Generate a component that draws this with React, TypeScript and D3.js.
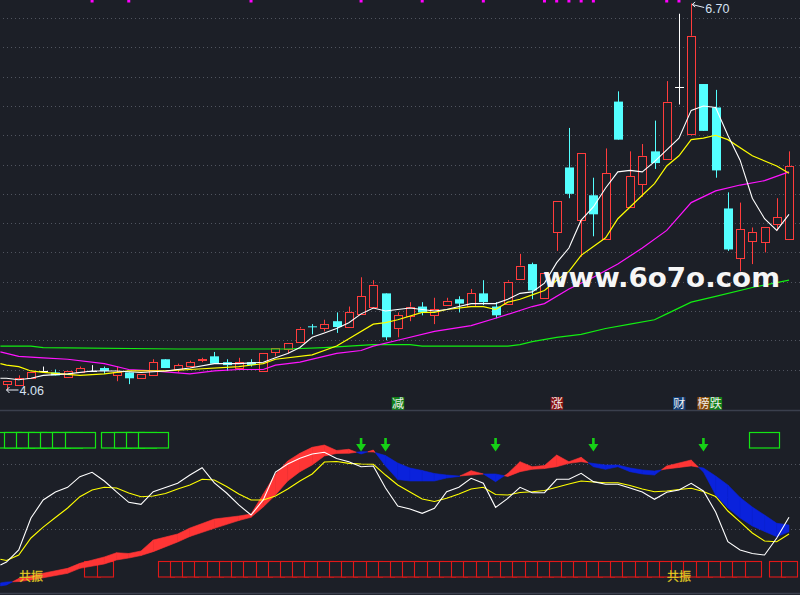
import React from "react";
import * as d3 from "d3";

// ---------- main panel data (price) ----------
const openP = [4.10,4.09,4.14,4.19,4.18,4.15,4.18,4.19,4.21,4.16, 4.18,4.14,4.16,4.27,4.20,4.22,4.26,4.29,4.25,4.21, 4.25,4.19,4.32,4.34,4.39,4.495,4.48,4.53,4.49,4.58, 4.63,4.72,4.48,4.57,4.63,4.57,4.64,4.68,4.63,4.72, 4.63,4.65,4.82,4.92,4.69,5.14,5.58,5.22,5.39,5.09, 6.03,5.31,5.47,5.69,5.64,6.13,5.81,6.15,5.99,5.30, 4.96,5.08,5.07,5.19,5.09];
const highP = [4.12,4.16,4.18,4.22,4.20,4.19,4.22,4.23,4.22,4.22, 4.18,4.17,4.27,4.27,4.24,4.26,4.28,4.32,4.27,4.28, 4.27,4.31,4.35,4.38,4.49,4.51,4.54,4.59,4.63,4.83, 4.81,4.72,4.59,4.66,4.66,4.69,4.69,4.70,4.75,4.81, 4.66,4.81,4.99,4.93,4.86,5.35,5.85,5.68,5.51,5.71, 6.10,5.69,5.74,5.90,6.17,6.63,6.70,6.15,6.11,5.41, 5.34,5.17,5.17,5.37,5.69];
const lowP = [4.06,4.09,4.14,4.19,4.16,4.15,4.18,4.19,4.17,4.12, 4.10,4.14,4.16,4.21,4.18,4.22,4.25,4.24,4.19,4.21, 4.22,4.19,4.29,4.31,4.38,4.44,4.46,4.45,4.49,4.58, 4.63,4.40,4.42,4.53,4.57,4.51,4.64,4.59,4.63,4.64, 4.55,4.65,4.82,4.68,4.69,5.01,5.37,4.97,5.11,5.09, 5.77,5.31,5.38,5.57,5.64,6.01,5.80,5.83,5.51,5.01, 4.87,4.92,5.00,5.15,5.09];
const closeP = [4.12,4.14,4.18,4.19,4.16,4.19,4.21,4.19,4.19,4.18, 4.14,4.17,4.25,4.21,4.23,4.25,4.27,4.24,4.23,4.25, 4.23,4.31,4.35,4.38,4.48,4.49,4.51,4.49,4.59,4.70, 4.78,4.42,4.57,4.63,4.59,4.61,4.67,4.65,4.72,4.66, 4.57,4.80,4.91,4.74,4.86,5.35,5.40,5.68,5.26,5.54, 5.77,5.52,5.66,5.61,6.03,6.13,6.48,5.83,5.56,5.02, 5.16,5.14,5.17,5.24,5.59];

const maWhite = [[-0.5,4.14],[0,4.14],[1,4.13],[2,4.14],[3,4.16],[5,4.17],[7,4.19],[9,4.19],[11,4.18],[13,4.19],[15,4.21],[17,4.24],[19,4.24],[21,4.25],[22,4.28],[23,4.31],[24,4.35],[25,4.42],[26,4.45],[27,4.48],[28,4.52],[29,4.58],[30,4.62],[31,4.60],[32,4.61],[33,4.62],[34,4.61],[35,4.60],[36,4.61],[37,4.63],[38,4.65],[39,4.65],[40,4.65],[41,4.68],[42,4.72],[43,4.73],[44,4.79],[45,4.93],[46,5.03],[47,5.22],[48,5.31],[49,5.44],[50,5.55],[51,5.56],[52,5.55],[53,5.62],[54,5.70],[55,5.78],[56,5.97],[57,6.00],[58,5.99],[59,5.80],[60,5.63],[61,5.37],[62,5.23],[63,5.15],[64,5.26]];
const maYellow = [[-0.5,4.24],[0,4.23],[1,4.22],[2,4.19],[3,4.18],[6,4.16],[8,4.17],[10,4.19],[13,4.19],[15,4.20],[19,4.22],[21,4.24],[22,4.27],[25,4.30],[27,4.36],[28,4.41],[30,4.51],[31,4.52],[32,4.54],[34,4.59],[35,4.59],[36,4.61],[38,4.63],[39,4.63],[40,4.61],[41,4.66],[42,4.68],[43,4.71],[44,4.74],[45,4.81],[46,4.87],[47,4.98],[48,5.04],[49,5.10],[50,5.23],[51,5.31],[52,5.39],[53,5.47],[54,5.59],[55,5.66],[56,5.77],[57,5.78],[58,5.80],[59,5.77],[61,5.66],[63,5.59],[64,5.54]];
const maMagenta = [[-0.5,4.32],[0,4.31],[1,4.29],[3,4.28],[5,4.27],[8,4.24],[10,4.20],[12,4.19],[15,4.17],[17,4.19],[19,4.20],[21,4.20],[22,4.23],[24,4.25],[27,4.31],[29,4.33],[30,4.36],[32,4.40],[35,4.46],[38,4.50],[40,4.55],[43,4.63],[44,4.65],[46,4.75],[48,4.83],[50,4.92],[52,5.03],[54,5.15],[56,5.34],[58,5.42],[60,5.46],[62,5.49],[64,5.55]];
const maGreen = [[-0.5,4.36],[2,4.36],[3,4.35],[14,4.34],[20,4.34],[23,4.34],[26,4.35],[28,4.36],[30,4.37],[33,4.37],[34,4.36],[41,4.36],[42,4.37],[43,4.39],[45,4.42],[47,4.44],[49,4.48],[51,4.51],[53,4.54],[54,4.58],[56,4.66],[58,4.70],[61,4.76],[64,4.81]];

const priceTicks = [4.2,4.4,4.6,4.8,5.0,5.2,5.4,5.6,5.8,6.0,6.2,6.4,6.6];
const topMarks = [7,10,20,29,34,39,44,45,46,47,48,54,55];
const tagLabels = [
  { i: 32, t: "减", bg: "#13801a" },
  { i: 45, t: "涨", bg: "#8a1212" },
  { i: 55, t: "财", bg: "#123f78" },
  { i: 57, t: "榜", bg: "#8a4a08" },
  { i: 58, t: "跌", bg: "#13801a" },
];

// ---------- lower panel data ----------
const oscWhite = [-10.5,0.6,30.2,46.8,54.2,58.5,68.3,72.3,64.3,54.2, 44.6,42.8,54.4,58.3,62.2,69.8,76.6,62.5,53.2,42.2, 32.9,46.8,72.6,80,85.3,89.2,90.8,85.1,82.1,77.5, 78.2,57.8,41.2,38.5,34.5,39.1,54.4,58.5,66.8,62.2, 40,48.3,58.5,53.5,53.5,65.9,65.9,71.4,63.7,61.3, 61.3,57.8,54.2,47.4,53.9,56,62.2,55.1,35.7,8.3, 0.6,-2.6,-4,11.7,30.8];
const oscYellow = [-9.1,-4,11.7,21.8,30.6,39.4,49.8,56,58.5,57.8, 53.2,49.8,50.5,52.8,56.9,60.6,65.9,65.2,59.2,52.3, 46.8,46.8,50.5,56.9,64.3,70.8,81.8,82.3,80.6,80, 79.7,69.8,60.6,54.2,47.7,45.4,48.3,52.3,56.9,58.5, 51.8,51.4,53.7,54.4,55.5,58.5,61.5,64.3,63.4,62.7, 62.7,60.2,56.9,54.4,55.1,56.5,57.6,54.6,50,36.6, 26.5,16.3,8.9,8.3,15.4];
const oscWhiteEdge = -13.2;
const oscYellowEdge = -8.0;
const ribbon = [[-0.5,-32.6,-29.8],[0,-31.7,-28.9],[1,-25.7,-28.5],[2,-23.1,-27.1],[5,-16.3,-20.9],[6,-11.7,-16.3],[8,-5.8,-12.3],[9,-1.9,-8.6],[10,-2.6,-6.8],[11,-0.3,-4.5],[12,9.8,-0.9],[14,15.4,8],[15,20.9,13.1],[17,29.2,20.6],[19,32,27.8],[20,33.8,30.8],[21,52.3,40.3],[22,70.8,51.4],[23,82.8,64.3],[24,89.9,72.9],[25,95.4,79.1],[26,97.5,87.4],[27,92.5,89.7],[28,93.6,89.9],[29,89.2,91.4],[30,92.9,91.1],[31,78.2,87.8],[32,65.7,80.9],[33,64.3,76.3],[34,64.3,74],[35,64.3,71.2],[36,67.1,69.8],[37,68.5,68.9],[38,73.8,69.8],[39,70.8,70.8],[40,63.7,70.8],[41,71.2,68.5],[42,82.1,72.9],[43,77.5,75.1],[44,78.6,75.8],[45,88.3,77.5],[46,82.1,80.6],[47,86.2,82.1],[48,77.5,80.5],[49,75.1,79.1],[50,77.5,79.1],[51,72.9,76.3],[52,70.8,74.5],[53,69.8,73.5],[54,78.2,75.4],[55,80.9,76.8],[56,83.7,78.2],[57,72.6,76.3],[58,51.4,68.9],[59,39.4,60.6],[60,30.2,49.1],[61,22.8,40.3],[62,17.7,32.9],[63,12.9,25.3],[64,17.5,23.7]];
const oscTicks = [20, 50, 80];
const downArrows = [29, 31, 40, 48, 57];
const greenCells = [-1,0,1,2,3,4,5,8,9,10,11,61];
const redCells = [6,7,...d3.range(12,61),62,63];
const resonance = [2, 55];

const BG = "#1c1f27";
const RED = "#ff3c3c";
const CYAN = "#54ffff";
const GRID = "#50545f";

export default function App() {
  const x = d3.scaleLinear().domain([0, 64]).range([6.5, 789]);
  const y = d3.scaleLinear().domain([4.06, 6.70]).range([390, 3.5]);
  const yo = d3.scaleLinear().domain([20, 80]).range([529, 464]);

  const maLine = d3.line<number[]>().x(d => x(d[0])).y(d => y(d[1]));
  const oscLine = d3.line<number[]>().x(d => x(d[0])).y(d => yo(d[1]));

  const wPts = [[-0.5, oscWhiteEdge], ...oscWhite.map((v, i) => [i, v])];
  const yPts = [[-0.5, oscYellowEdge], ...oscYellow.map((v, i) => [i, v])];

  // ribbon polygons between fast (a) and slow (b)
  const polys: { pts: number[][]; col: string }[] = [];
  for (let k = 0; k < ribbon.length - 1; k++) {
    const [i1, a1, b1] = ribbon[k];
    const [i2, a2, b2] = ribbon[k + 1];
    const d1 = a1 - b1, d2 = a2 - b2;
    if (d1 * d2 < 0) {
      const t = d1 / (d1 - d2);
      const im = i1 + t * (i2 - i1), vm = a1 + t * (a2 - a1);
      polys.push({ pts: [[i1, a1], [im, vm], [i1, b1]], col: d1 > 0 ? "#ff3535" : "#0a22dc" });
      polys.push({ pts: [[im, vm], [i2, a2], [i2, b2]], col: d2 > 0 ? "#ff3535" : "#0a22dc" });
    } else {
      polys.push({ pts: [[i1, a1], [i2, a2], [i2, b2], [i1, b1]], col: d1 + d2 >= 0 ? "#ff3535" : "#0a22dc" });
    }
  }
  const polyPath = (pts: number[][]) =>
    "M" + pts.map(p => `${x(p[0]).toFixed(2)},${yo(p[1]).toFixed(2)}`).join("L") + "Z";

  const xl = x(0), yl = y(lowP[0]);
  const hiIdx = highP.indexOf(d3.max(highP) as number);
  const xh = x(hiIdx), yh = y(highP[hiIdx]);

  return (
    <svg width={800} height={595} style={{ position: "fixed", left: 0, top: 0, background: BG }}
      fontFamily="'Liberation Sans', Arial, sans-serif">
      <rect x={0} y={0} width={800} height={595} fill={BG} />
      <defs>
        <clipPath id="lowclip"><rect x={0} y={412} width={800} height={180} /></clipPath>
        <clipPath id="mainclip"><rect x={0} y={0} width={800} height={410} /></clipPath>
      </defs>

      {/* grid main */}
      {priceTicks.map(p => (
        <line key={p} x1={3} x2={800} y1={Math.round(y(p)) + 0.5} y2={Math.round(y(p)) + 0.5}
          stroke={GRID} strokeDasharray="1,3" />
      ))}
      {/* top magenta marks */}
      {topMarks.map(i => (
        <rect key={i} x={x(i) - 1.5} y={0} width={3} height={2.5} fill="#ff00ff" />
      ))}

      {/* candles */}
      <g clipPath="url(#mainclip)">
        {openP.map((o, i) => {
          const c = closeP[i], h = highP[i], l = lowP[i];
          const cx = Math.round(x(i)) + 0.5;
          const top = y(Math.max(o, c)), bot = y(Math.min(o, c));
          if (o === c) {
            return (
              <g key={i} stroke="#ffffff">
                <line x1={cx} x2={cx} y1={y(h)} y2={y(l)} />
                <line x1={cx - 4.5} x2={cx + 4.5} y1={Math.round(top) + 0.5} y2={Math.round(top) + 0.5} />
              </g>
            );
          }
          if (c > o) {
            return (
              <g key={i} stroke={RED}>
                <line x1={cx} x2={cx} y1={y(h)} y2={top} />
                <line x1={cx} x2={cx} y1={bot} y2={y(l)} />
                <rect x={cx - 4} y={Math.round(top) + 0.5} width={8} height={Math.max(1, Math.round(bot - top))} fill={BG} />
              </g>
            );
          }
          return (
            <g key={i}>
              <line x1={cx} x2={cx} y1={y(h)} y2={y(l)} stroke={CYAN} />
              <rect x={cx - 4.5} y={top} width={9} height={Math.max(1, bot - top)} fill={CYAN} />
            </g>
          );
        })}

        {/* moving averages */}
        <path d={maLine(maGreen) || ""} fill="none" stroke="#12ee12" strokeWidth={1.2} />
        <path d={maLine(maMagenta) || ""} fill="none" stroke="#ff14ff" strokeWidth={1.2} />
        <path d={maLine(maYellow) || ""} fill="none" stroke="#ffff00" strokeWidth={1.2} />
        <path d={maLine(maWhite) || ""} fill="none" stroke="#ffffff" strokeWidth={1.1} />
      </g>

      {/* high / low labels */}
      <g stroke="#e8eef8" fill="none" strokeWidth={1}>
        <path d={`M${xh + 1},${yh + 1} L${xh + 13},${yh + 4}`} />
        <path d={`M${xh + 4},${yh - 1.5} L${xh + 1},${yh + 1} L${xh + 4},${yh + 3.5}`} />
        <path d={`M${xl},${yl} H${xl + 12}`} />
        <path d={`M${xl + 3},${yl - 3} L${xl},${yl} L${xl + 3},${yl + 3}`} />
      </g>
      <text x={xh + 14} y={yh + 9} fontSize={12.5} fill="#d6e2f2">6.70</text>
      <text x={xl + 13} y={yl + 5} fontSize={12.5} fill="#d6e2f2">4.06</text>

      {/* watermark */}
      <text x={543} y={287} fontSize={27} fontWeight={700} fill="#f6f6f6"
        fontFamily="'DejaVu Sans', sans-serif" textLength={237} lengthAdjust="spacingAndGlyphs">www.6o7o.com</text>

      {/* tag labels */}
      {tagLabels.map(d => (
        <g key={d.i}>
          <rect x={x(d.i) - 6} y={397} width={12.5} height={13} fill={d.bg} />
          <text x={x(d.i) + 0.2} y={408} fontSize={12} textAnchor="middle" fill="#eeeeee"
            fontFamily="'Noto Sans CJK SC', sans-serif">{d.t}</text>
        </g>
      ))}

      {/* separators */}
      <line x1={0} x2={800} y1={410.5} y2={410.5} stroke="#3a3f4d" strokeWidth={1.5} />
      <line x1={0} x2={800} y1={593.5} y2={593.5} stroke="#3a3f4d" strokeWidth={1.5} />

      {/* lower panel */}
      <g clipPath="url(#lowclip)">
        {oscTicks.map(v => (
          <line key={v} x1={3} x2={800} y1={Math.round(yo(v)) + 0.5} y2={Math.round(yo(v)) + 0.5}
            stroke={GRID} strokeDasharray="1,3" />
        ))}
        {greenCells.map(i => (
          <rect key={"g" + i} x={Math.round(x(i) - 3) + 0.5} y={432.5} width={30} height={15.5}
            fill={BG} stroke="#14e614" strokeWidth={1.2} />
        ))}
        {redCells.map(i => (
          <rect key={"r" + i} x={Math.round(x(i) + 4.5) + 0.5} y={561.5} width={16} height={15.5}
            fill={BG} stroke="#e01818" strokeWidth={1.1} />
        ))}
        {polys.map((p, k) => (
          <path key={k} d={polyPath(p.pts)} fill={p.col} stroke={p.col} strokeWidth={0.6} />
        ))}
        <path d={oscLine(yPts) || ""} fill="none" stroke="#ffff00" strokeWidth={1.1} />
        <path d={oscLine(wPts) || ""} fill="none" stroke="#ffffff" strokeWidth={1.1} />
        {downArrows.map(i => {
          const cx = x(i);
          return (
            <g key={i} fill="#16d016">
              <rect x={cx - 1.3} y={438} width={2.6} height={8} />
              <path d={`M${cx - 5},${444} L${cx + 5},${444} L${cx},${451.5} Z`} />
            </g>
          );
        })}
        {resonance.map(i => (
          <text key={i} x={x(i)} y={581} fontSize={12} textAnchor="middle" fill="#f0e628"
            stroke="#c8a020" strokeWidth={0.3} fontFamily="'Noto Sans CJK SC', sans-serif">共振</text>
        ))}
      </g>
    </svg>
  );
}
